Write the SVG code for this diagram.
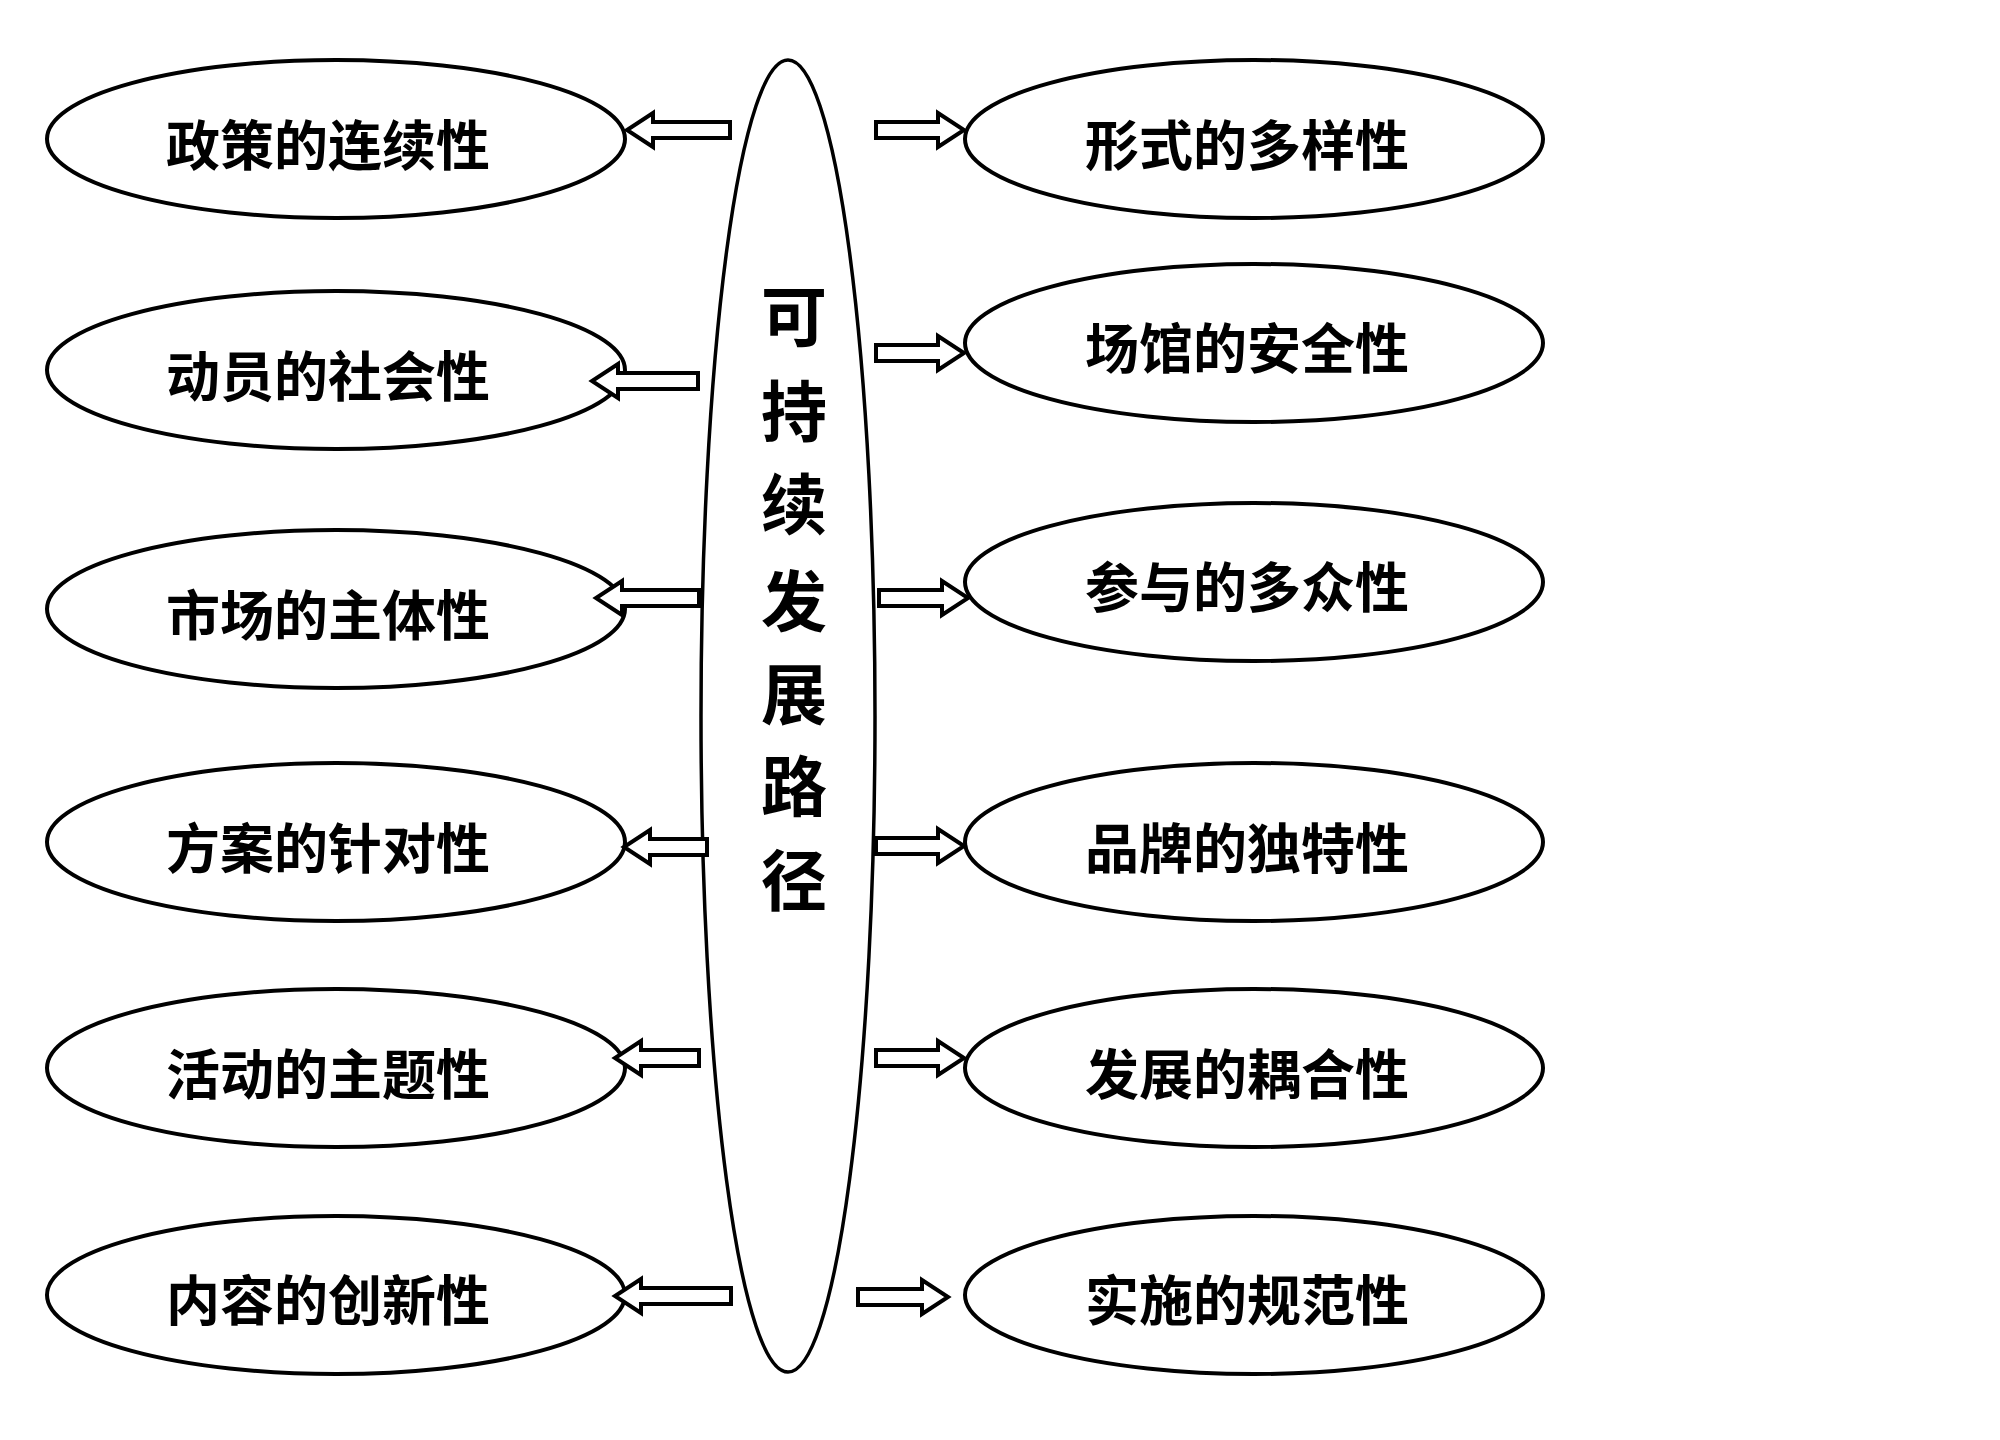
<svg xmlns="http://www.w3.org/2000/svg" width="2000" height="1440" viewBox="0 0 2000 1440">
<style>
.node ellipse{fill:#fff;stroke:#000;stroke-width:4}
.center ellipse{fill:#fff;stroke:#000;stroke-width:3.5}
.lbl{font-family:"Liberation Sans","Noto Sans CJK SC",sans-serif;font-weight:bold;font-size:54px;fill:#000;text-anchor:middle;dominant-baseline:central}
.clbl{font-family:"Liberation Sans","Noto Sans CJK SC",sans-serif;font-weight:bold;font-size:66px;fill:#000;text-anchor:middle;dominant-baseline:central}
.arrows path{fill:#fff;stroke:#000;stroke-width:4;stroke-linejoin:miter}
</style>
<rect width="2000" height="1440" fill="#fff"/>
<g id="center" class="center">
<ellipse cx="788" cy="716" rx="87" ry="656"/>
<text class="clbl"><tspan x="794" y="318">可</tspan><tspan x="794" y="413">持</tspan><tspan x="794" y="506">续</tspan><tspan x="794" y="603">发</tspan><tspan x="794" y="696">展</tspan><tspan x="794" y="788">路</tspan><tspan x="794" y="882">径</tspan></text>
</g>
<g id="n-l1" class="node"><ellipse cx="336" cy="139" rx="289" ry="79"/><text class="lbl" x="328" y="147">政策的连续性</text></g>
<g id="n-l2" class="node"><ellipse cx="336" cy="370" rx="289" ry="79"/><text class="lbl" x="328" y="378">动员的社会性</text></g>
<g id="n-l3" class="node"><ellipse cx="336" cy="609" rx="289" ry="79"/><text class="lbl" x="328" y="617">市场的主体性</text></g>
<g id="n-l4" class="node"><ellipse cx="336" cy="842" rx="289" ry="79"/><text class="lbl" x="328" y="850">方案的针对性</text></g>
<g id="n-l5" class="node"><ellipse cx="336" cy="1068" rx="289" ry="79"/><text class="lbl" x="328" y="1076">活动的主题性</text></g>
<g id="n-l6" class="node"><ellipse cx="336" cy="1295" rx="289" ry="79"/><text class="lbl" x="328" y="1302">内容的创新性</text></g>
<g id="n-r1" class="node"><ellipse cx="1254" cy="139" rx="289" ry="79"/><text class="lbl" x="1247" y="147">形式的多样性</text></g>
<g id="n-r2" class="node"><ellipse cx="1254" cy="343" rx="289" ry="79"/><text class="lbl" x="1247" y="350">场馆的安全性</text></g>
<g id="n-r3" class="node"><ellipse cx="1254" cy="582" rx="289" ry="79"/><text class="lbl" x="1247" y="589">参与的多众性</text></g>
<g id="n-r4" class="node"><ellipse cx="1254" cy="842" rx="289" ry="79"/><text class="lbl" x="1247" y="850">品牌的独特性</text></g>
<g id="n-r5" class="node"><ellipse cx="1254" cy="1068" rx="289" ry="79"/><text class="lbl" x="1247" y="1076">发展的耦合性</text></g>
<g id="n-r6" class="node"><ellipse cx="1254" cy="1295" rx="289" ry="79"/><text class="lbl" x="1247" y="1302">实施的规范性</text></g>
<g id="connectors" class="arrows">
<path d="M730,122 L653,122 L653,113 L627,130 L653,147 L653,138 L730,138 Z"/>
<path d="M698,373 L618,373 L618,364 L592,381 L618,398 L618,389 L698,389 Z"/>
<path d="M699,590 L622,590 L622,581 L596,598 L622,615 L622,606 L699,606 Z"/>
<path d="M707,839 L650,839 L650,830 L624,847 L650,864 L650,855 L707,855 Z"/>
<path d="M699,1050 L641,1050 L641,1041 L615,1058 L641,1075 L641,1066 L699,1066 Z"/>
<path d="M731,1288 L641,1288 L641,1279 L615,1296 L641,1313 L641,1304 L731,1304 Z"/>
<path d="M876,122 L938,122 L938,113 L964,130 L938,147 L938,138 L876,138 Z"/>
<path d="M876,345 L938,345 L938,336 L964,353 L938,370 L938,361 L876,361 Z"/>
<path d="M879,590 L942,590 L942,581 L968,598 L942,615 L942,606 L879,606 Z"/>
<path d="M876,838 L938,838 L938,829 L964,846 L938,863 L938,854 L876,854 Z"/>
<path d="M876,1050 L938,1050 L938,1041 L964,1058 L938,1075 L938,1066 L876,1066 Z"/>
<path d="M858,1289 L922,1289 L922,1280 L948,1297 L922,1314 L922,1305 L858,1305 Z"/>
</g>
</svg>
